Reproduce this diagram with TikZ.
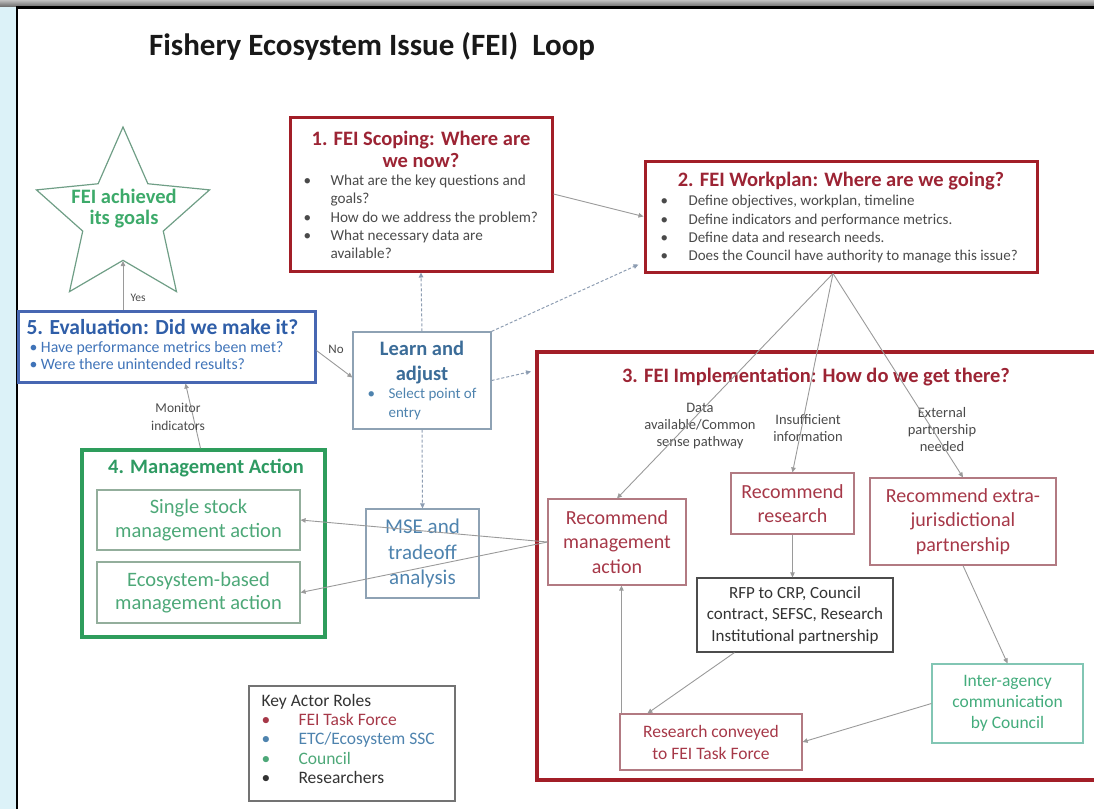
\documentclass[tikz,border=0pt]{standalone}
\usepackage{fontspec}
\setmainfont{Carlito}
\usetikzlibrary{arrows.meta,shapes.geometric,calc}
\newcommand\myfs[2]{\fontsize{#1}{#2}\selectfont}
\definecolor{dred}{HTML}{A21E27}
\definecolor{tred}{HTML}{9C2434}
\definecolor{gtext}{HTML}{4A4A4A}
\definecolor{bblue}{HTML}{4767B2}
\definecolor{tblue}{HTML}{2F5EA8}
\definecolor{lblue}{HTML}{3F73B8}
\definecolor{lbord}{HTML}{8EA2B4}
\definecolor{ltext}{HTML}{3B6C98}
\definecolor{mtext}{HTML}{4E83AE}
\definecolor{ggreen}{HTML}{2E9D5C}
\definecolor{tgreen}{HTML}{2E9A62}
\definecolor{sgbord}{HTML}{93AE9C}
\definecolor{sgtext}{HTML}{4DA878}
\definecolor{starline}{HTML}{6F9E86}
\definecolor{startext}{HTML}{3DAA6A}
\definecolor{rbord}{HTML}{B27A82}
\definecolor{rtext}{HTML}{A63848}
\definecolor{tealb}{HTML}{82C6B4}
\definecolor{ttext}{HTML}{43AC7C}
\definecolor{arr}{HTML}{9A9A9A}
\definecolor{darr}{HTML}{8D9DB2}
\definecolor{strip}{HTML}{DCF2F8}
\begin{document}
\begin{tikzpicture}[x=1pt,y=-1pt,
  boxwh/.style 2 args={rectangle, inner sep=0pt, minimum width=#1pt, minimum height=#2pt},
  thickred/.style={draw=dred, line width=3pt},
  thinbox/.style={line width=1.2pt, align=center},
  rbox/.style={thinbox, draw=rbord, text=rtext},
  ttl/.style={font=\myfs{20.5}{22}\bfseries},
  lab/.style={font=\myfs{14.5}{17}, text=gtext, align=center},
  conn/.style={draw=arr, line width=0.9pt, -{Triangle[length=5pt,width=4.5pt]}},
  dconn/.style={draw=darr, line width=1pt, dash pattern=on 3pt off 2pt, -{Triangle[length=5pt,width=4.5pt]}}]
\useasboundingbox (0,0) rectangle (1094,809);
% frame
\fill[strip] (0,0) rectangle (16,809);
\shade[top color=black!25, bottom color=black!55] (0,0) rectangle (1094,6);
\draw[line width=2.5pt, black] (17,809) -- (17,7.5) -- (1094,7.5);
% title
\node[font=\myfs{31}{36}\bfseries, text=black!90] (title) at (372,46) {Fishery Ecosystem Issue (FEI)~~Loop};
% box 1
\node[boxwh={262}{154}, thickred] (scope) at (421,194) {};
\node[ttl, text=tred, align=center] (scopet) at (421,149) {1. FEI Scoping: Where are\\we now?};
\node[anchor=west, font=\myfs{15.2}{18.3}, text=gtext] (scopeb) at (300,218.5) {\begin{tabular}{@{}p{27pt}@{}l@{}}\textbullet & What are the key questions and\\ & goals?\\ \textbullet & How do we address the problem?\\ \textbullet & What necessary data are\\ & available?\end{tabular}};
% box 2
\node[boxwh={392}{111}, thickred] (plan) at (841,216.5) {};
\node[ttl, text=tred] (plant) at (841,181) {2. FEI Workplan: Where are we going?};
\node[anchor=west, font=\myfs{15}{18.3}, text=gtext] (planb) at (657,229.5) {\begin{tabular}{@{}p{28pt}@{}l@{}}\textbullet & Define objectives, workplan, timeline\\ \textbullet & Define indicators and performance metrics.\\ \textbullet & Define data and research needs.\\ \textbullet & Does the Council have authority to manage this issue?\end{tabular}};
% star
\node[star, star points=5, star point ratio=2.15, minimum size=182pt, inner sep=0pt, draw=starline, line width=1.2pt] (star) at (123,218) {};
\node[font=\myfs{20.5}{21}\bfseries, text=startext, align=center] (startxt) at (124,209) {FEI achieved\\its goals};
% box 5
\node[boxwh={297}{71}, draw=bblue, line width=3pt] (eval) at (166.5,346.5) {};
\node[font=\myfs{21.5}{24}\bfseries, text=tblue, anchor=west] (evalt) at (23,327) {5. Evaluation: Did we make it?};
\node[anchor=west, font=\myfs{15.8}{16.8}, text=lblue] (evalb) at (26,358) {\begin{tabular}{@{}l@{}}\textbullet\ Have performance metrics been met?\\ \textbullet\ Were there unintended results?\end{tabular}};
% learn and adjust
\node[boxwh={138}{97}, thinbox, draw=lbord] (learn) at (422,380.5) {};
\node[font=\myfs{20.5}{25}\bfseries, text=ltext, align=center] (learnt) at (422,363) {Learn and\\adjust};
\node[anchor=west, font=\myfs{15}{18.5}, text=mtext] (learnb) at (364,404.5) {\begin{tabular}{@{}p{21pt}@{}l@{}}\textbullet & Select point of\\ & entry\end{tabular}};
% MSE
\node[boxwh={113}{89}, thinbox, draw=lbord, text=mtext, font=\myfs{21}{25.5}] (mse) at (422.5,553.5) {MSE and\\tradeoff\\analysis};
% box 4
\node[boxwh={243}{187}, draw=ggreen, line width=3.5pt] (act) at (203.5,543.5) {};
\node[ttl, text=tgreen] (actt) at (206,468) {4. Management Action};
\node[boxwh={203}{60}, thinbox, draw=sgbord, text=sgtext, font=\myfs{20.5}{24.5}] (single) at (198.5,520) {Single stock\\management action};
\node[boxwh={203}{61}, thinbox, draw=sgbord, text=sgtext, font=\myfs{20.5}{23.5}] (eco) at (198.5,592.5) {Ecosystem-based\\management action};
% box 3
\node[boxwh={573}{428}, draw=dred, line width=4pt] (impl) at (823.5,566) {};
\node[ttl, text=tred] (implt) at (816,377) {3. FEI Implementation: How do we get there?};
\node[lab] (l1) at (700,426) {Data\\available/Common\\sense pathway};
\node[lab] (l2) at (808,428) {Insufficient\\information};
\node[lab] (l3) at (942,430) {External\\partnership\\needed};
\node[boxwh={138}{86}, rbox, font=\myfs{20}{24.5}] (rmgmt) at (617,542) {Recommend\\management\\action};
\node[boxwh={123}{61}, rbox, font=\myfs{20}{24.5}] (rres) at (792.5,503.5) {Recommend\\research};
\node[boxwh={186}{87}, rbox, font=\myfs{20}{24.5}] (rext) at (963,521.5) {Recommend extra-\\jurisdictional\\partnership};
\node[boxwh={196}{74}, thinbox, draw=black!70, text=black!80, font=\myfs{17}{21.5}] (rfp) at (795,615) {RFP to CRP, Council\\contract, SEFSC, Research\\Institutional partnership};
\node[boxwh={151}{79}, thinbox, draw=tealb, text=ttext, font=\myfs{17.5}{21}] (inter) at (1007.5,703.5) {Inter-agency\\communication\\by Council};
\node[boxwh={182}{56}, rbox, font=\myfs{17.5}{22}] (conv) at (711,742) {Research conveyed\\to FEI Task Force};
% key
\node[boxwh={206}{115}, thinbox, draw=black!55] (key) at (352,743.5) {};
\node[anchor=west, font=\myfs{17.5}{19.2}, text=black!80] (keyt) at (258,741) {\begin{tabular}{@{}p{37pt}@{}l@{}}\multicolumn{2}{@{}l@{}}{Key Actor Roles}\\ \textcolor{rtext}{\textbullet} & \textcolor{rtext}{FEI Task Force}\\ \textcolor{mtext}{\textbullet} & \textcolor{mtext}{ETC/Ecosystem SSC}\\ \textcolor{sgtext}{\textbullet} & \textcolor{sgtext}{Council}\\ \textbullet & Researchers\end{tabular}};
% connectors
\draw[conn] (scope.east) -- (plan.west);
\draw[dconn] (learn.north) -- (scope.south);
\draw[dconn] (learn.north east) -- ([xshift=-5pt,yshift=9pt]plan.south west);
\draw[dconn] (learn.east) -- ([xshift=-4pt,yshift=9pt]learn.east -| impl.west);
\draw[dconn] (learn.south) -- (mse.north);
\draw[conn] ([yshift=-4pt]eval.east) -- ([yshift=3pt]learn.west);
\node[font=\myfs{13}{15}, text=gtext] (no) at (336,349) {No};
\draw[conn] (eval.north -| star.south) -- (star.south);
\node[font=\myfs{11.5}{13}, text=gtext] (yes) at (138,298) {Yes};
\draw[conn] ([xshift=-3pt]act.north) -- ([xshift=19pt]eval.south);
\node[font=\myfs{13.5}{18}, text=gtext, align=center] (mon) at (178,417) {Monitor\\indicators};
\draw[conn] (rmgmt.west) -- (single.east);
\draw[conn] (rmgmt.west) -- (eco.east);
\draw[conn] ([xshift=-8pt]plan.south) -- (rmgmt.north);
\draw[conn] ([xshift=-8pt]plan.south) -- (rres.north);
\draw[conn] ([xshift=-8pt]plan.south) -- (rext.north);
\draw[conn] (rres.south) -- (rres.south |- rfp.north);
\draw[conn] (rext.south) -- (inter.north);
\draw[conn] ([xshift=38pt]rfp.south west) -- ([xshift=28pt]conv.north west);
\draw[conn] (inter.west) -- (conv.east);
\draw[conn] ([xshift=2pt]conv.north west) -- ([xshift=2pt]conv.north west |- rmgmt.south);
\end{tikzpicture}
\end{document}
